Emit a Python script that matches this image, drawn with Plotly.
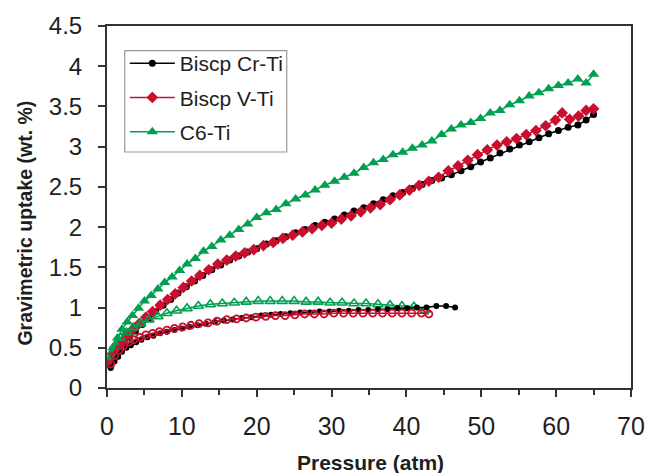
import plotly.graph_objects as go

# Adsorption branches
cr_ads_x = [0.5, 1, 1.6, 2.3, 3, 3.8, 4.7, 5.6, 6.5, 7.5, 8.5, 9.5, 10.6, 11.7, 12.8, 14, 15.2, 16.4, 17.6, 18.8, 20, 21.3, 22.6, 23.9, 25.2, 26.5, 27.8, 29.1, 30.4, 31.7, 33, 34.3, 35.6, 36.9, 38.2, 39.5, 40.8, 42.1, 43.4, 44.7, 46, 47.3, 48.6, 49.9, 51.2, 52.5, 53.8, 55.1, 56.4, 57.7, 59, 60.3, 61.6, 62.9, 64, 65]
cr_ads_y = [0.27, 0.38, 0.47, 0.55, 0.63, 0.71, 0.79, 0.87, 0.95, 1.03, 1.1, 1.18, 1.26, 1.33, 1.4, 1.47, 1.53, 1.59, 1.64, 1.69, 1.73, 1.79, 1.83, 1.88, 1.93, 1.97, 2.02, 2.06, 2.1, 2.15, 2.2, 2.24, 2.29, 2.34, 2.39, 2.43, 2.48, 2.53, 2.58, 2.61, 2.65, 2.70, 2.75, 2.81, 2.86, 2.92, 2.97, 3.02, 3.06, 3.11, 3.16, 3.2, 3.24, 3.27, 3.33, 3.4]

v_ads_x = [0.3, 0.8, 1.3, 2, 2.7, 3.5, 4.3, 5.2, 6.1, 7.1, 8.1, 9.1, 10.2, 11.3, 12.4, 13.6, 14.8, 16, 17.2, 18.4, 19.6, 20.9, 22.2, 23.5, 24.8, 26.1, 27.4, 28.7, 30, 31.3, 32.6, 33.9, 35.2, 36.5, 37.8, 39.1, 40.4, 41.7, 43, 44.3, 45.6, 46.9, 48.2, 49.5, 50.8, 52.1, 53.4, 54.7, 56, 57.3, 58.6, 59.9, 60.8, 61.8, 63, 64, 65]
v_ads_y = [0.3, 0.42, 0.5, 0.58, 0.66, 0.73, 0.8, 0.88, 0.95, 1.03, 1.1, 1.17, 1.25, 1.33, 1.4, 1.47, 1.54, 1.59, 1.64, 1.68, 1.72, 1.77, 1.81, 1.86, 1.9, 1.94, 1.98, 2.02, 2.05, 2.1, 2.14, 2.19, 2.24, 2.28, 2.34, 2.4, 2.46, 2.52, 2.57, 2.62, 2.70, 2.76, 2.83, 2.9, 2.96, 3.02, 3.06, 3.1, 3.15, 3.2, 3.26, 3.33, 3.42, 3.34, 3.38, 3.45, 3.47]

c6_ads_x = [0.3, 0.8, 1.4, 2, 2.7, 3.4, 4.2, 5, 5.9, 6.8, 7.7, 8.7, 9.7, 10.7, 11.8, 12.9, 14, 15.2, 16.4, 17.6, 18.8, 20, 21.3, 22.6, 23.9, 25.2, 26.5, 27.8, 29.1, 30.4, 31.7, 33, 34.3, 35.6, 36.9, 38.2, 39.5, 40.8, 42.1, 43.4, 44.7, 46, 47.3, 48.6, 49.9, 51.2, 52.5, 53.8, 55.1, 56.4, 57.7, 59, 60.3, 61.6, 62.9, 64, 65]
c6_ads_y = [0.35, 0.5, 0.62, 0.73, 0.82, 0.9, 0.99, 1.08, 1.15, 1.23, 1.31, 1.38, 1.46, 1.54, 1.61, 1.7, 1.76, 1.84, 1.9, 1.97, 2.04, 2.12, 2.18, 2.22, 2.29, 2.35, 2.4, 2.46, 2.52, 2.57, 2.62, 2.67, 2.74, 2.8, 2.84, 2.9, 2.93, 2.98, 3.02, 3.07, 3.15, 3.22, 3.27, 3.3, 3.35, 3.42, 3.45, 3.52, 3.57, 3.63, 3.67, 3.72, 3.76, 3.79, 3.84, 3.79, 3.9]

# Desorption branches
cr_des_x = [0.5, 1, 1.5, 2, 2.6, 3.2, 3.9, 4.6, 5.4, 6.2, 7.1, 8, 9, 10, 11, 12.1, 13.2, 14.4, 15.6, 16.8, 18, 19.3, 20.6, 21.9, 23.2, 24.5, 25.8, 27.1, 28.4, 29.7, 31, 32.3, 33.6, 34.9, 36.2, 37.5, 38.8, 40.1, 41.4, 42.7, 44, 45.3, 46.5]
cr_des_y = [0.25, 0.33, 0.39, 0.45, 0.5, 0.53, 0.57, 0.6, 0.63, 0.65, 0.68, 0.7, 0.72, 0.74, 0.76, 0.78, 0.8, 0.82, 0.84, 0.85, 0.87, 0.88, 0.9, 0.91, 0.92, 0.93, 0.94, 0.94, 0.95, 0.95, 0.96, 0.96, 0.97, 0.97, 0.98, 0.98, 0.99, 0.99, 1.0, 1.0, 1.02, 1.02, 1.0]

v_des_x = [0.5, 1, 1.6, 2.2, 2.9, 3.6, 4.4, 5.2, 6.1, 7, 8, 9, 10.1, 11.2, 12.3, 13.5, 14.7, 16, 17.3, 18.6, 19.9, 21.2, 22.5, 23.8, 25.1, 26.4, 27.7, 29, 30.3, 31.6, 32.9, 34.2, 35.5, 36.8, 38.1, 39.4, 40.7, 42, 43]
v_des_y = [0.3, 0.4, 0.47, 0.52, 0.57, 0.6, 0.63, 0.66, 0.68, 0.7, 0.72, 0.74, 0.76, 0.78, 0.8, 0.81, 0.83, 0.85, 0.86, 0.87, 0.88, 0.89, 0.9, 0.9, 0.91, 0.92, 0.92, 0.92, 0.93, 0.93, 0.93, 0.93, 0.93, 0.93, 0.93, 0.93, 0.93, 0.93, 0.92]

c6_des_x = [0.5, 1.1, 1.8, 2.6, 3.5, 4.5, 5.6, 6.8, 8, 9.3, 10.7, 12.2, 13.8, 15.4, 17, 18.6, 20.2, 21.8, 23.4, 25, 26.6, 28.2, 29.8, 31.4, 33, 34.6, 36.2, 37.8, 39.4, 41, 42.5]
c6_des_y = [0.42, 0.53, 0.62, 0.69, 0.75, 0.8, 0.85, 0.89, 0.93, 0.96, 0.99, 1.02, 1.04, 1.05, 1.06, 1.07, 1.08, 1.08, 1.08, 1.08, 1.07, 1.07, 1.06, 1.06, 1.05, 1.05, 1.04, 1.03, 1.02, 1.01, 0.97]

series_names = ["Biscp Cr-Ti", "Biscp V-Ti", "C6-Ti"]
x_title = "Pressure (atm)"
y_title = "Gravimetric uptake (wt. %)"
BLACK = "#000000"
RED = "#c8102e"
GREEN = "#00a050"
FONT = "Liberation Sans, Arial, sans-serif"
TXT = "#1e1e1e"

fig = go.Figure()
# adsorption (legend)
fig.add_trace(go.Scatter(x=cr_ads_x, y=cr_ads_y, mode="lines+markers", name=series_names[0], legendgroup="a",
                         line=dict(color=BLACK, width=1.5),
                         marker=dict(symbol="circle", size=7, color=BLACK)))
fig.add_trace(go.Scatter(x=v_ads_x, y=v_ads_y, mode="lines+markers", name=series_names[1], legendgroup="b",
                         line=dict(color=RED, width=1.5),
                         marker=dict(symbol="diamond", size=9, color=RED)))
fig.add_trace(go.Scatter(x=c6_ads_x, y=c6_ads_y, mode="lines+markers", name=series_names[2], legendgroup="c",
                         line=dict(color=GREEN, width=1.5),
                         marker=dict(symbol="triangle-up", size=10, color=GREEN)))
# desorption
fig.add_trace(go.Scatter(x=c6_des_x, y=c6_des_y, mode="lines+markers", showlegend=False,
                         line=dict(color=GREEN, width=1.5),
                         marker=dict(symbol="triangle-up-open", size=9, color=GREEN, line=dict(width=1.6))))
fig.add_trace(go.Scatter(x=cr_des_x, y=cr_des_y, mode="lines+markers", showlegend=False,
                         line=dict(color=BLACK, width=1.5),
                         marker=dict(symbol="circle", size=6, color=BLACK)))
fig.add_trace(go.Scatter(x=v_des_x, y=v_des_y, mode="lines+markers", showlegend=False,
                         line=dict(color=RED, width=1.5),
                         marker=dict(symbol="circle-open", size=7, color=RED, line=dict(width=1.8))))

fig.update_layout(
    width=657, height=473,
    margin=dict(l=107, r=17, t=23, b=85),
    paper_bgcolor="white", plot_bgcolor="white",
    font=dict(family=FONT, color=TXT),
    showlegend=True,
    legend=dict(x=0.034, y=0.953, xanchor="left", yanchor="top",
                bgcolor="rgba(0,0,0,0)", borderwidth=0,
                font=dict(size=21, family=FONT, color=TXT),
                itemwidth=45, tracegroupgap=4),
    shapes=[dict(type="rect", xref="paper", yref="paper", x0=0.0338, x1=0.343, y0=0.652, y1=0.932,
                 line=dict(color="#999999", width=1.2), fillcolor="white", layer="above")],
    xaxis=dict(range=[0, 70], dtick=10, tick0=0, showgrid=False, zeroline=False,
               showline=True, linecolor="#333333", linewidth=2, mirror=True,
               ticks="outside", ticklen=7, tickwidth=1.5, tickcolor="#333333",
               ticklabelstandoff=8,
               tickfont=dict(size=25, family=FONT, color=TXT),
               minor=dict(dtick=5, ticks="outside", ticklen=5, tickwidth=1.5, tickcolor="#333333")),
    yaxis=dict(range=[0, 4.5], dtick=0.5, tick0=0, showgrid=False, zeroline=False,
               showline=True, linecolor="#333333", linewidth=2, mirror=True,
               ticks="outside", ticklen=7, tickwidth=1.5, tickcolor="#333333",
               ticklabelstandoff=11,
               tickfont=dict(size=24, family=FONT, color=TXT)),
    annotations=[
        dict(text="<b>" + x_title + "</b>", xref="paper", yref="paper", x=0.503, y=-0.205,
             xanchor="center", yanchor="middle", showarrow=False,
             font=dict(size=21, family=FONT, color=TXT)),
        dict(text="<b>" + y_title + "</b>", xref="paper", yref="paper", x=-0.156, y=0.455,
             xanchor="center", yanchor="middle", showarrow=False, textangle=-90,
             font=dict(size=19.5, family=FONT, color=TXT)),
    ],
)

fig.write_html("out.html")
